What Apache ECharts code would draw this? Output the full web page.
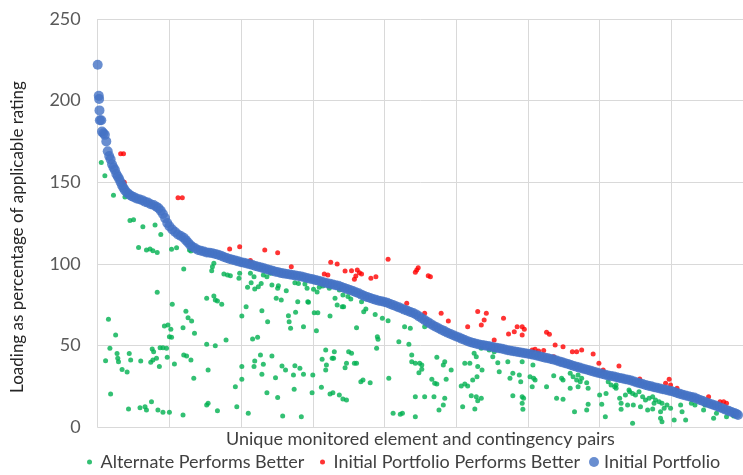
<!DOCTYPE html>
<html>
<head>
<meta charset="utf-8">
<script src="https://cdn.jsdelivr.net/npm/echarts/dist/echarts.min.js"></script>
<style>html,body{margin:0;padding:0;background:#fff;}#c{width:743px;height:475px;}</style>
</head>
<body>
<div id="c"></div>
<script>
// x = pair index (sorted by initial loading), y = loading as % of rating
const initialPortfolio = [
[0,222],[1.5,203],[2,201],[2.5,194],[3,188],[5,188],[6,181],[8,180],[10,179],[12,175],[14,169],[16,166],[18,164],[20,161],[22,159],[24,157.5],[26,155],[28,153.5],[30,152],[32,150],[34,148],[36,146.5],[38,145],[41,143.5],[44,142.5],[47,141.5],[50,141],[54,140],[58,139.5],[62,139],[66,138],[70,137.5],[74,136.5],[78,136],[82,135],[85,134],[88,132.5],[91,130.5],[94,128],[97,125],[100,123],[104,121],[108,119.5],[112,118],[116,117],[120,116],[123,114.5],[126,113],[129,111.5],[132,110.5],[136,109.5],[140,108.5],[144,108],[148,107.5],[152,107],[156,106.8],[160,106.5],[164,106],[168,105.5],[172,105],[176,104.2],[180,103.6],[184,103],[188,102.5],[192,102],[196,101.5],[200,101],[204,100.6],[208,100.2],[212,99.8],[216,99.3],[220,98.7],[224,98.2],[228,97.7],[232,97.2],[236,96.7],[240,96.2],[244,95.7],[248,95.2],[252,94.8],[256,94.3],[260,94],[264,93.7],[268,93.4],[272,93.1],[276,92.8],[280,92.5],[284,92.2],[288,91.8],[292,91.3],[296,90.9],[300,90.5],[304,90],[308,89.6],[312,89.1],[316,88.6],[320,88.1],[324,87.7],[328,87.3],[332,86.9],[336,86.5],[340,85.8],[344,85.2],[348,84.5],[352,83.9],[356,83.3],[360,82.6],[364,81.9],[368,81.1],[372,80.3],[376,79.6],[380,79],[384,78.4],[388,77.9],[392,77.4],[396,77],[400,76.6],[404,76.1],[408,75.4],[412,74.7],[416,74],[420,73.3],[424,72.6],[428,71.9],[432,71.2],[436,70.5],[440,69.8],[444,69],[448,67.8],[452,66.6],[456,65.5],[460,64.4],[464,63.3],[468,62.2],[472,61.3],[476,60.4],[480,59.5],[484,58.6],[488,57.8],[492,57],[496,56.2],[500,55.5],[504,54.8],[508,54],[512,53.3],[516,52.6],[520,52],[524,51.5],[528,51],[532,50.6],[536,50.3],[540,50],[544,49.7],[548,49.3],[552,48.9],[556,48.6],[560,48.3],[564,47.9],[568,47.5],[572,47.1],[576,46.7],[580,46.4],[584,46.1],[588,45.8],[592,45.5],[596,45.2],[600,44.9],[604,44.6],[608,44.2],[612,43.8],[616,43.3],[620,42.9],[624,42.5],[628,42.1],[632,41.7],[636,41.3],[640,40.7],[644,40.2],[648,39.6],[652,39.1],[656,38.6],[660,38],[664,37.4],[668,36.9],[672,36.4],[676,35.9],[680,35.4],[684,34.9],[688,34.4],[692,33.9],[696,33.4],[700,32.9],[704,32.5],[708,32],[712,31.6],[716,31.2],[720,30.9],[724,30.5],[728,30.1],[732,29.7],[736,29.3],[740,28.9],[744,28.5],[748,27.9],[752,27.3],[756,26.8],[760,26.3],[764,25.8],[768,25.3],[772,24.9],[776,24.4],[780,24],[784,23.6],[788,23.2],[792,22.8],[796,22.4],[800,22],[804,21.4],[808,20.8],[812,20.3],[816,19.8],[820,19.3],[824,18.9],[828,18.4],[832,18],[836,17.3],[840,16.6],[844,15.9],[848,15.2],[852,14.6],[856,14],[860,13.4],[864,12.7],[868,12],[872,11.3],[876,10.6],[880,9.9],[884,9.2],[888,8.6],[891,8],[893,7.3]
];

const alternateBetter = [
[5,162],[10,154],[22,142],[38,141],[45,126.5],[50,127],[63,122.7],[80,123.8],[88,118],[57,110],[68,108.5],[73,109],[77,108],[83,107],[103,108.9],[110,109.9],[128,108.5],[130,107.8],[120,96.8],[83,82.5],[104,75.2],[123,71],[126,67],[131,65],[93,61.9],[98,62.5],[102,59.9],[100,55.3],[103,55],[119,60.8],[135,57.4],[15,66],[25,56.4],[17,48.2],[11,40.6],[27,45.1],[28,42.1],[29,40],[34,35.3],[41,33.7],[44,45.1],[46,41],[60,40.4],[74,39.6],[77,41],[76,47.8],[78,46.1],[87,48.6],[91,48.6],[96,48.2],[82,42.1],[86,37],[97,42.7],[107,38.6],[120,44.1],[124,43.5],[130,41],[134,29.8],[18,20.2],[43,11],[59,11.8],[66,12.4],[68,10.4],[75,15.5],[84,10.4],[91,9],[100,9],[119,7.4],
[162,100.3],[160,98.2],[159,95.8],[176,93.8],[181,93.1],[185,92.7],[198,94.2],[197,91.1],[213,94.2],[218,92.1],[231,93.1],[236,92.1],[241,94.2],[243,87],[252,86.6],[251,85],[228,88],[224,86],[209,85.6],[219,84.6],[214,88.4],[263,83.5],[275,88.4],[280,88],[289,87.6],[152,78.9],[162,80.3],[164,77.8],[167,77.2],[173,75.2],[207,73.7],[249,78.9],[256,77.8],[279,76.8],[294,76.4],[229,71.3],[201,68],[237,64.5],[266,68.2],[276,70.3],[267,64.5],[269,60.5],[287,61.5],[152,50.7],[164,49.8],[179,53.3],[216,53.9],[223,55],[227,44.1],[243,43.5],[219,40.4],[231,38.4],[218,37],[229,32.3],[201,37],[154,34.9],[201,29.2],[248,30.2],[257,37.4],[262,34.9],[275,37.6],[282,36],[287,32.3],[273,31.9],[192,24.7],[236,21],[251,18],[274,23.1],[154,14.5],[152,13.5],[167,10],[194,12.4],[210,8.4],[258,6.7],[284,6.3],
[293,76.8],[292,85],[301,84.4],[306,82.7],[309,85.6],[314,86.4],[323,85],[331,78.9],[337,84],[342,80.9],[349,79.9],[353,78.4],[334,74.8],[341,73.7],[343,73.7],[302,70],[307,70],[324,68],[368,76.8],[374,72.3],[371,70.6],[387,69],[397,66.6],[405,65.1],[305,59],[361,60.8],[390,55.3],[391,53.7],[389,48.2],[420,52.3],[434,50.7],[428,61.5],[436,60.5],[438,44.1],[443,39],[438,40],[318,47.2],[330,46.1],[329,42.1],[327,42.1],[313,41.5],[319,38],[318,34.9],[350,46.1],[354,45.2],[347,39],[358,39],[361,39],[345,36.3],[367,27.8],[370,28.8],[380,27.1],[406,29.8],[300,31.9],[299,21],[312,24.3],[324,20.2],[328,21],[337,19.6],[342,17.2],[347,16.5],[412,8.4],[422,7.8],[425,8.4],[443,6.3],
[456,61.5],[449,39],[452,38],[452,35.4],[448,33.3],[473,42.7],[484,40],[482,38],[493,34.9],[466,29.2],[470,26.8],[473,26.3],[486,29.2],[443,18.6],[456,18.6],[469,18.6],[484,17.6],[482,13.5],[476,10.4],[525,45.2],[528,43.1],[512,39],[519,39],[530,37],[536,34.9],[529,30.8],[523,28.8],[512,26.3],[507,25.1],[516,25.1],[521,19.2],[528,18.6],[535,17.6],[530,16.1],[526,11],[509,12.4],[535,48.2],[546,47.2],[551,43.1],[553,46.1],[558,39.4],[560,33.9],[572,40],[579,32.9],[575,29.8],[588,31.9],[592,40],[590,27.8],[579,19.2],[592,18.6],[592,14.5],
[607,38],[603,30.8],[608,29.8],[610,28.8],[606,24.7],[626,24.7],[636,31.4],[640,17.6],[649,17],[649,28.8],[647,29.8],[659,32.9],[663,30.8],[670,31.9],[675,29.8],[668,28.8],[673,27.8],[659,23.7],[670,24.7],[682,27.1],[684,23.7],[665,9.4],[682,10.4],[684,13.9],[700,19.6],[703,13.9],[709,20.6],[712,27.8],[716,25.7],[721,24.7],[723,25.7],[723,23.7],[728,17.6],[730,14.5],[730,10.8],[736,19.6],[742,21.6],[739,13.5],[708,6.3],[594,17.6],[593,10.8],
[741,22.7],[746,20.6],[750,19.6],[755,21.6],[760,18.6],[764,16.5],[769,17.6],[774,18.6],[778,16.5],[783,15.5],[787,14.5],[747,13.5],[757,12.4],[767,10.4],[774,11],[776,14.5],[785,9.4],[790,11.5],[794,13.5],[799,11.5],[785,5.3],[787,3.2],[746,2.3],[804,4.3],[813,13.5],[815,9.4],[820,4.3],[828,14.5],[833,13.5],[845,10.4],[847,13.5],[859,5.3],[863,8.4],[877,6.3],[887,6.7]
];

const initialBetter = [
[32,167.5],[36,167.5],[37,150],[112,140.5],[118,140.5],[184,109],[198,110.5],[233,108.5],[251,106.8],[270,98.2],[213,102],[325,100.9],[334,99.9],[345,95.6],[354,95.8],[362,96.2],[365,94.5],[360,92.5],[358,90.5],[368,93.7],[381,91.1],[388,92.1],[405,102.8],[316,93.7],[321,93.1],[431,75.8],[445,96.2],[447,97.6],[443,94.8],[461,92.7],[464,92.1],[456,69.7],[479,69.7],[489,65],[530,70.7],[542,69.7],[539,65.6],[535,62.5],[516,61.5],[566,66.6],[573,57],[581,58.4],[585,61.5],[592,61.5],[592,56.4],[595,59.9],[553,53.3],[626,58],[630,56.8],[610,47.6],[615,46.6],[622,46.8],[606,47.2],[638,50.2],[649,49.2],[636,43.1],[662,46.1],[668,46.1],[675,47.2],[691,44.7],[699,39],[705,34.9],[727,37.4],[797,29.2],[792,26.8],[799,25.7],[808,23.7],[852,18.6],[873,15.5],[877,14.5],[868,15.5],[756,29.4]
];

const seriesNames = ['Alternate Performs Better', 'Initial Portfolio Performs Better', 'Initial Portfolio'];
const yTicks = [0, 50, 100, 150, 200, 250];
const xTitle = 'Unique monitored element and contingency pairs';
const yTitle = 'Loading as percentage of applicable rating';

const FONT = 'Lato, "Open Sans", sans-serif';
const chart = echarts.init(document.getElementById('c'), null, {renderer: 'canvas'});
const legendText = {fontSize: 18, color: '#404040', fontFamily: FONT};
chart.setOption({
  animation: false,
  backgroundColor: '#ffffff',
  grid: {left: 97.7, top: 19, bottom: 48, right: -5.4, containLabel: false},
  legend: [
    {data: [seriesNames[0]], left: 87, top: 453, padding: 0, icon: 'circle', itemWidth: 12, itemHeight: 5, textStyle: legendText},
    {data: [seriesNames[1]], left: 320, top: 453, padding: 0, icon: 'circle', itemWidth: 12, itemHeight: 5, textStyle: legendText},
    {data: [seriesNames[2]], left: 589, top: 453, padding: 0, icon: 'circle', itemWidth: 10, itemHeight: 10, textStyle: legendText}
  ],
  graphic: [{
    type: 'text', x: 18, y: 237, rotation: Math.PI / 2,
    style: {text: yTitle, fontSize: 17, fill: '#262626', fontFamily: FONT, align: 'center', verticalAlign: 'middle'}
  }],
  xAxis: {
    type: 'value', min: 0, max: 900, interval: 100,
    name: xTitle, nameLocation: 'middle', nameGap: 3,
    nameTextStyle: {fontSize: 18, color: '#404040', fontFamily: FONT},
    axisLabel: {show: false}, axisTick: {show: false},
    axisLine: {show: true, lineStyle: {color: '#d9d9d9', width: 1}},
    splitLine: {show: true, lineStyle: {color: '#d9d9d9', width: 1}}
  },
  yAxis: {
    type: 'value', min: yTicks[0], max: yTicks[yTicks.length - 1], interval: 50,
    axisLabel: {fontSize: 18, color: '#595959', fontFamily: FONT, margin: 17},
    axisTick: {show: false},
    axisLine: {show: false},
    splitLine: {show: true, lineStyle: {color: '#d9d9d9', width: 1}}
  },
  series: [
    {name: seriesNames[0], type: 'scatter', data: alternateBetter, symbol: 'circle', symbolSize: 5, itemStyle: {color: '#00b050'}, z: 2},
    {name: seriesNames[1], type: 'scatter', data: initialBetter, symbol: 'circle', symbolSize: 5, itemStyle: {color: '#ff0000'}, z: 3},
    {name: seriesNames[2], type: 'scatter', data: initialPortfolio, symbol: 'circle', symbolSize: 10, itemStyle: {color: '#4472c4'}, z: 4}
  ]
});
</script>
</body>
</html>
